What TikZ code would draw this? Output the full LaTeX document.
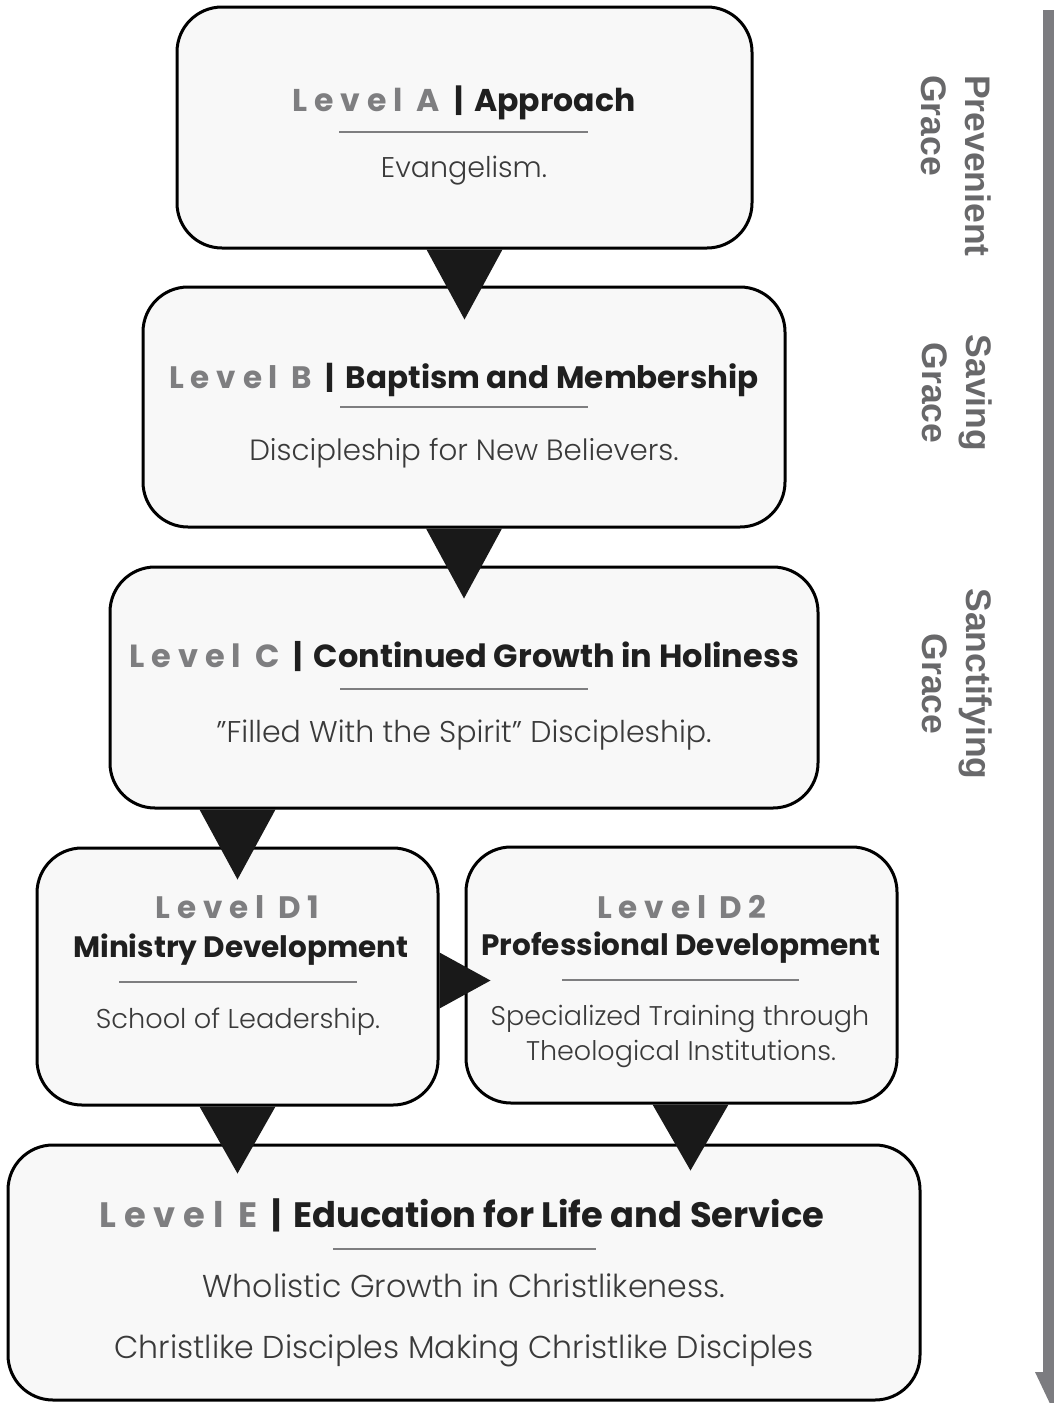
\documentclass[tikz,border=0pt]{standalone}
\usepackage{fontspec}
\setmainfont{Poppins}[UprightFont=* Light, BoldFont=* Bold]
\newfontfamily\sidefont{Liberation Sans}
\usetikzlibrary{calc}
\definecolor{boxfill}{HTML}{F8F8F8}
\definecolor{lvlgray}{HTML}{7E7E80}
\definecolor{bodygray}{HTML}{3A3A3A}
\definecolor{sidegray}{HTML}{68686A}
\definecolor{bargray}{HTML}{7C7C80}
\newcommand{\lvl}[1]{{\color{lvlgray}\bfseries\addfontfeature{LetterSpace=22}#1}}
\newcommand{\sep}{\hspace{14pt}|\hspace{11pt}}
\begin{document}
\begin{tikzpicture}[x=1pt,y=-1pt,
  stagebox/.style={draw=black, line width=3pt, fill=boxfill, rounded corners=45pt, inner sep=0pt},
  ttl/.style={anchor=base, text=black!88, font=\fontsize{31}{36}\selectfont\bfseries, inner sep=0pt},
  bodytxt/.style={anchor=base, text=bodygray, font=\fontsize{29}{34}\selectfont, inner sep=0pt},
  rulesty/.style={draw=lvlgray, line width=1.6pt},
  tri/.style={fill=black!90},
  sidelbl/.style={rotate=-90, text=sidegray, font=\sidefont\fontsize{35.5}{44}\selectfont\bfseries, inner sep=0pt}]
\useasboundingbox (0,0) rectangle (1053,1403);
\fill[white] (0,0) rectangle (1053,1403);

% boxes
\node[stagebox, minimum width=575pt, minimum height=241pt] (A) at (464.5,127.5) {};
\node[stagebox, minimum width=642pt, minimum height=240pt] (B) at (464,407) {};
\node[stagebox, minimum width=708pt, minimum height=241pt] (C) at (464,687.5) {};
\node[stagebox, minimum width=401pt, minimum height=257pt] (D1) at (237.5,976.5) {};
\node[stagebox, minimum width=431pt, minimum height=256pt] (D2) at (681.5,975) {};
\node[stagebox, minimum width=912pt, minimum height=255pt] (E) at (464,1272.5) {};

% connectors (triangles)
\fill[tri] ($(A.south)+(-38,0)$) -- ($(A.south)+(38,0)$) -- ($(A.south)+(0,70)$) -- cycle;
\fill[tri] ($(B.south)+(-38,0)$) -- ($(B.south)+(38,0)$) -- ($(B.south)+(0,70)$) -- cycle;
\coordinate (cd) at (C.south -| D1.north);
\fill[tri] ($(cd)+(-38,0)$) -- ($(cd)+(38,0)$) -- ($(cd)+(0,70)$) -- cycle;
\coordinate (dd) at ($(D1.east)+(0,4)$);
\fill[tri] ($(dd)+(0,-28)$) -- ($(dd)+(0,28)$) -- ($(dd)+(51,0)$) -- cycle;
\fill[tri] ($(D1.south)+(-38,0)$) -- ($(D1.south)+(38,0)$) -- ($(D1.south)+(0,67)$) -- cycle;
\coordinate (de) at ($(D2.south)+(9,0)$);
\fill[tri] ($(de)+(-38,0)$) -- ($(de)+(38,0)$) -- ($(de)+(0,66)$) -- cycle;

% texts A
\node[ttl, font=\fontsize{31.5}{36}\selectfont\bfseries] (At) at (464,111) {\lvl{Level A}\sep Approach};
\draw[rulesty] (339,132) -- (588,132);
\node[bodytxt, font=\fontsize{28.5}{34}\selectfont] (Ab) at (464,177) {Evangelism.};
% B
\node[ttl] (Bt) at (464,388) {\lvl{Level B}\sep Baptism and Membership};
\draw[rulesty] (340,407) -- (588,407);
\node[bodytxt, font=\fontsize{29.3}{34}\selectfont] (Bb) at (464,460) {Discipleship for New Believers.};
% C
\node[ttl, font=\fontsize{32}{36}\selectfont\bfseries] (Ct) at (464,667) {\lvl{Level C}\sep Continued Growth in Holiness};
\draw[rulesty] (340,689) -- (588,689);
\node[bodytxt, font=\fontsize{30}{34}\selectfont] (Cb) at (464,742) {\char"22 Filled With the Spirit\char"22\ Discipleship.};
% D1
\node[ttl] (D1l) at (237.5,918) {\lvl{Level D1}};
\node[ttl, font=\fontsize{29.5}{36}\selectfont\bfseries] (D1t) at (241,957) {Ministry Development};
\draw[rulesty] (119,982) -- (357,982);
\node[bodytxt, font=\fontsize{27.2}{34}\selectfont] (D1b) at (238,1028) {School of Leadership.};
% D2
\node[ttl] (D2l) at (682,918) {\lvl{Level D2}};
\node[ttl, font=\fontsize{29.5}{36}\selectfont\bfseries] (D2t) at (681,955) {Professional Development};
\draw[rulesty] (562,980) -- (799,980);
\node[bodytxt, font=\fontsize{27}{34}\selectfont] (D2b) at (680,1025) {Specialized Training through};
\node[bodytxt, font=\fontsize{27}{34}\selectfont] (D2c) at (681,1060) {Theological Institutions.};
% E
\node[ttl, font=\fontsize{35.3}{38}\selectfont\bfseries] (Et) at (462,1227) {\lvl{Level E}\sep Education for Life and Service};
\draw[rulesty] (333,1249) -- (596,1249);
\node[bodytxt, font=\fontsize{31.6}{36}\selectfont] (Eb) at (464,1297) {Wholistic Growth in Christlikeness.};
\node[bodytxt, font=\fontsize{31.6}{36}\selectfont] (Ec) at (464,1358) {Christlike Disciples Making Christlike Disciples};

% side bar arrow
\fill[bargray] (1043,10) rectangle (1063,1374);
\fill[bargray] (1035,1372) -- (1071,1372) -- (1053,1410) -- cycle;

% side labels
\node[sidelbl, anchor=north west, align=left] (pg) at (991,75) {Prevenient\\Grace};
\node[sidelbl, align=center] (sg) at (957,393) {Saving\\Grace};
\node[sidelbl, align=center] (scg) at (957,684) {Sanctifying\\Grace};
\end{tikzpicture}
\end{document}
